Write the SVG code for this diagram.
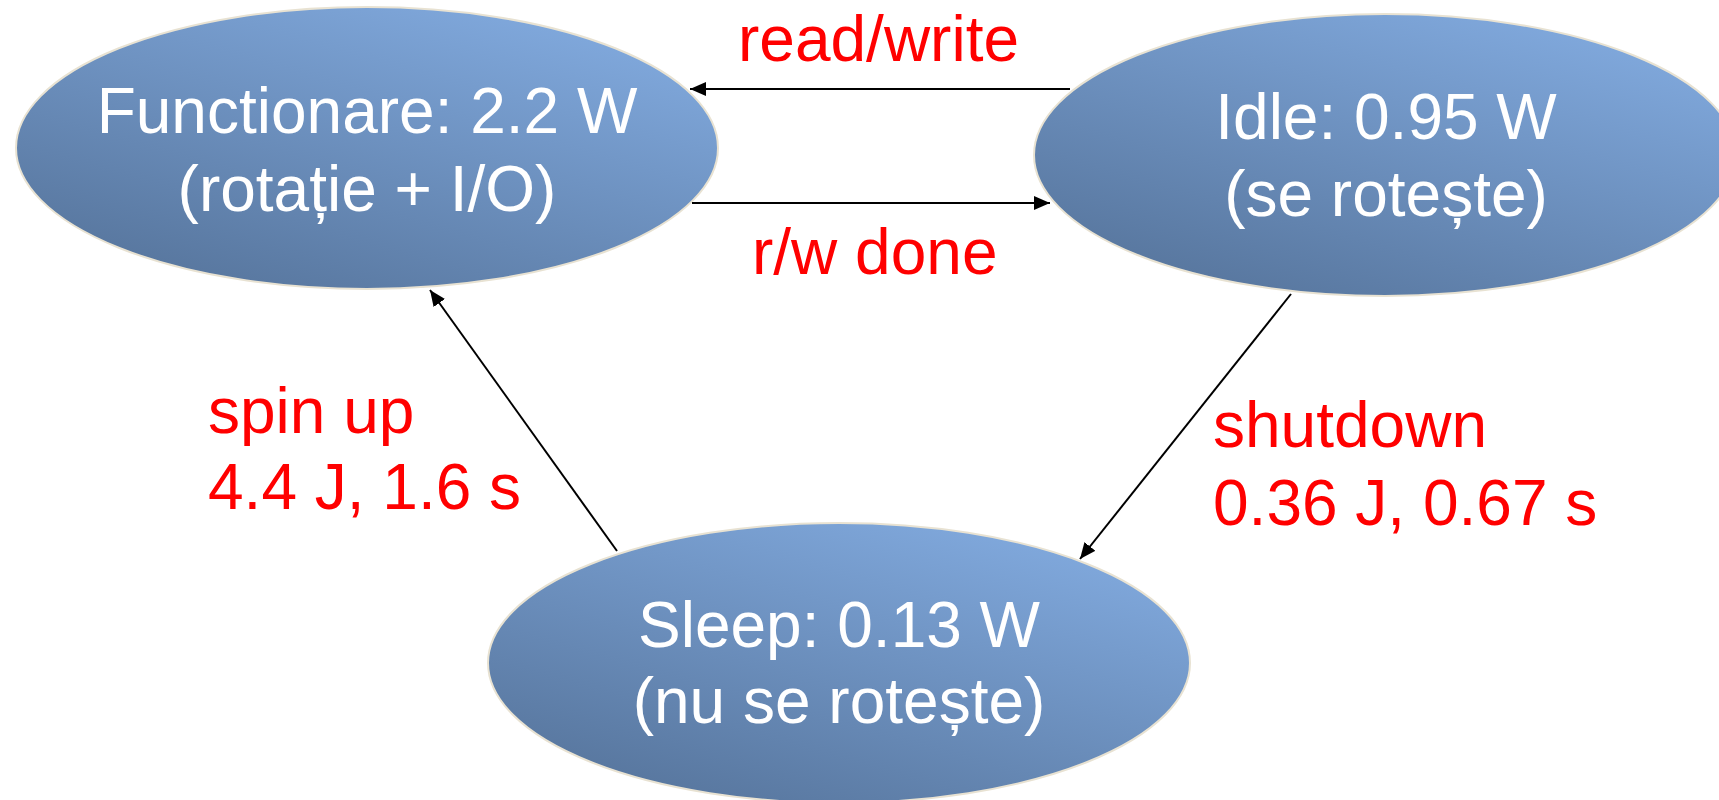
<svg xmlns="http://www.w3.org/2000/svg" width="1719" height="800" viewBox="0 0 1719 800">
  <style>
    .node { stroke: #E8E2D2; stroke-width: 2; fill: url(#g); }
    .nt { font-family: "Liberation Sans", Arial, sans-serif; font-size: 64px; fill: #FFFFFF; text-anchor: middle; }
    .lbl { font-family: "Liberation Sans", Arial, sans-serif; font-size: 64px; fill: #FF0000; }
    .edge { stroke: #000000; stroke-width: 2; fill: none; marker-end: url(#arr); }
  </style>
  <defs>
    <linearGradient id="g" x1="0.15" y1="1" x2="0.85" y2="0">
      <stop offset="0" stop-color="#55739A"/>
      <stop offset="1" stop-color="#83ACE1"/>
    </linearGradient>
    <marker id="arr" viewBox="0 0 10 10" refX="10" refY="5" markerWidth="8" markerHeight="8" markerUnits="userSpaceOnUse" orient="auto">
      <path d="M0,0 L10,5 L0,10 z" fill="#000000"/>
    </marker>
    <marker id="arrB" viewBox="0 0 10 10" refX="10" refY="5" markerWidth="16" markerHeight="14" markerUnits="userSpaceOnUse" orient="auto" preserveAspectRatio="none">
      <path d="M0,0 L10,5 L0,10 z" fill="#000000"/>
    </marker>
  </defs>
  <rect width="1719" height="800" fill="#FFFFFF"/>

  <g id="functionare">
    <ellipse class="node" cx="367" cy="148" rx="351" ry="141"/>
    <text class="nt" x="367" y="133">Functionare: 2.2 W</text>
    <text class="nt" x="367" y="211">(rotație + I/O)</text>
  </g>

  <g id="idle">
    <ellipse class="node" cx="1385" cy="155" rx="351" ry="141"/>
    <text class="nt" x="1386" y="139">Idle: 0.95 W</text>
    <text class="nt" x="1386" y="216">(se rotește)</text>
  </g>

  <g id="sleep">
    <ellipse class="node" cx="839" cy="663" rx="351" ry="140"/>
    <text class="nt" x="839" y="647">Sleep: 0.13 W</text>
    <text class="nt" x="839" y="723">(nu se rotește)</text>
  </g>

  <g id="connectors">
    <line class="edge" style="marker-end:url(#arrB)" x1="1070" y1="89" x2="690" y2="89"/>
    <line class="edge" style="marker-end:url(#arrB)" x1="692" y1="203" x2="1050" y2="203"/>
    <line class="edge" style="marker-end:url(#arrB)" x1="1291" y1="294" x2="1080" y2="559"/>
    <line class="edge" style="marker-end:url(#arrB)" x1="617" y1="551" x2="430" y2="290"/>
  </g>

  <g id="labels">
    <text class="lbl" x="738" y="61">read/write</text>
    <text class="lbl" x="752" y="274">r/w done</text>
    <text class="lbl" x="208" y="433">spin up</text>
    <text class="lbl" x="208" y="509">4.4 J, 1.6 s</text>
    <text class="lbl" x="1213" y="447">shutdown</text>
    <text class="lbl" x="1213" y="525">0.36 J, 0.67 s</text>
  </g>
</svg>
